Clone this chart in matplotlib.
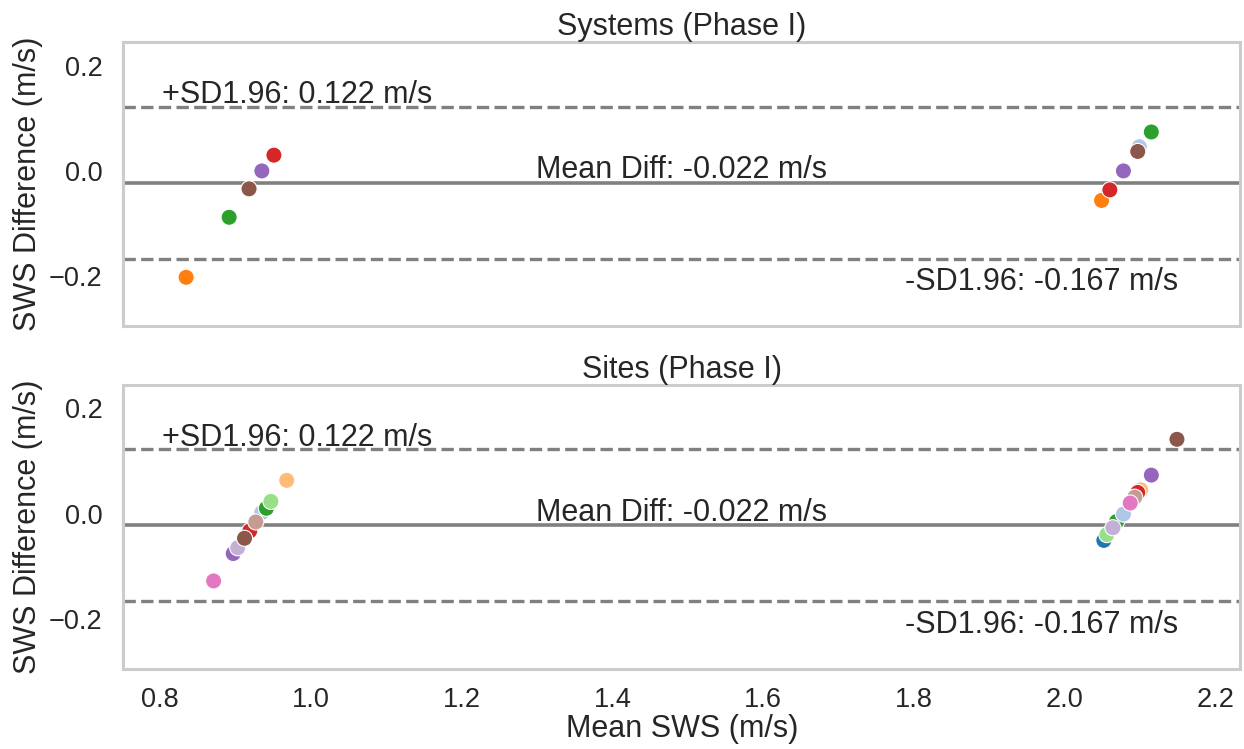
import matplotlib
matplotlib.use("Agg")
import matplotlib.pyplot as plt

plt.rcParams['font.family'] = ['Liberation Sans', 'DejaVu Sans']
plt.rcParams['text.color'] = '#262626'
plt.rcParams['axes.labelcolor'] = '#262626'
plt.rcParams['xtick.color'] = '#262626'
plt.rcParams['ytick.color'] = '#262626'

# Bland-Altman summary values
mean_diff = -0.022
upper_loa = 0.122
lower_loa = -0.167

# Systems (Phase I): mean SWS, difference, colour (draw order)
sys_mean = [0.8345, 0.8916, 0.918, 0.935, 0.951,
            2.049, 2.060, 2.078, 2.099, 2.097, 2.115]
sys_diff = [-0.202, -0.088, -0.034, 0.000, 0.030,
            -0.056, -0.036, 0.000, 0.046, 0.037, 0.074]
sys_color = ['#ff7f0e', '#2ca02c', '#8c564b', '#9467bd', '#d62728',
             '#ff7f0e', '#d62728', '#9467bd', '#aec7e8', '#8c564b', '#2ca02c']

# Sites (Phase I)
site_mean = [0.871, 0.897, 0.903, 0.919, 0.912, 0.935, 0.927, 0.941, 0.947, 0.968,
             2.052, 2.056, 2.069, 2.064, 2.078, 2.101, 2.097, 2.093, 2.087, 2.115, 2.149]
site_diff = [-0.128, -0.076, -0.065, -0.033, -0.047, 0.002, -0.016, 0.010, 0.023, 0.063,
             -0.051, -0.040, -0.015, -0.027, -0.001, 0.045, 0.040, 0.031, 0.020, 0.073, 0.141]
site_color = ['#e377c2', '#9467bd', '#c5b0d5', '#d62728', '#8c564b', '#aec7e8',
              '#c49c94', '#2ca02c', '#98df8a', '#ffbb78',
              '#1f77b4', '#98df8a', '#2ca02c', '#c5b0d5', '#aec7e8', '#ffbb78',
              '#d62728', '#c49c94', '#e377c2', '#9467bd', '#8c564b']

panels = [
    ('Systems (Phase I)', sys_mean, sys_diff, sys_color),
    ('Sites (Phase I)', site_mean, site_diff, site_color),
]

fig, axes = plt.subplots(2, 1, figsize=(12.44, 7.49), dpi=100, sharex=True, sharey=True)
fig.subplots_adjust(left=0.099, right=0.997, top=0.944, bottom=0.107, hspace=0.205)

fs = 22
for ax, (title, xm, yd, cols) in zip(axes, panels):
    ax.scatter(xm, yd, c=cols, s=135, edgecolors='white', linewidths=0.8, zorder=3)
    ax.axhline(mean_diff, color='gray', lw=2.6, zorder=2)
    ax.axhline(upper_loa, color='gray', lw=2.4, ls='--', zorder=2)
    ax.axhline(lower_loa, color='gray', lw=2.4, ls='--', zorder=2)

    ax.set_xlim(0.751, 2.233)
    ax.set_ylim(-0.295, 0.245)

    # limits-of-agreement and bias labels
    ax.text(0.803, upper_loa - 0.007, f'+SD1.96: {upper_loa:.3f} m/s',
            fontsize=fs, ha='left', va='bottom')
    ax.text(1.492, mean_diff - 0.005, f'Mean Diff: {mean_diff:.3f} m/s',
            fontsize=fs, ha='center', va='bottom')
    ax.text(2.151, lower_loa - 0.016, f'-SD1.96: {lower_loa:.3f} m/s',
            fontsize=fs, ha='right', va='top')

    ax.set_title(title, fontsize=fs, pad=3)
    ax.set_ylabel('SWS Difference (m/s)', fontsize=fs, labelpad=4)
    ax.set_yticks([-0.2, 0.0, 0.2])
    ax.tick_params(axis='y', length=0, labelsize=19.5, pad=15)
    ax.tick_params(axis='x', length=0, labelsize=19.5, pad=13)
    for sp in ax.spines.values():
        sp.set_color('#cccccc')
        sp.set_linewidth(2.2)
    ax.grid(False)

axes[1].set_xticks([0.8, 1.0, 1.2, 1.4, 1.6, 1.8, 2.0, 2.2])
axes[1].set_xlabel('Mean SWS (m/s)', fontsize=fs, labelpad=1)

fig.savefig('out.png', dpi=100)
